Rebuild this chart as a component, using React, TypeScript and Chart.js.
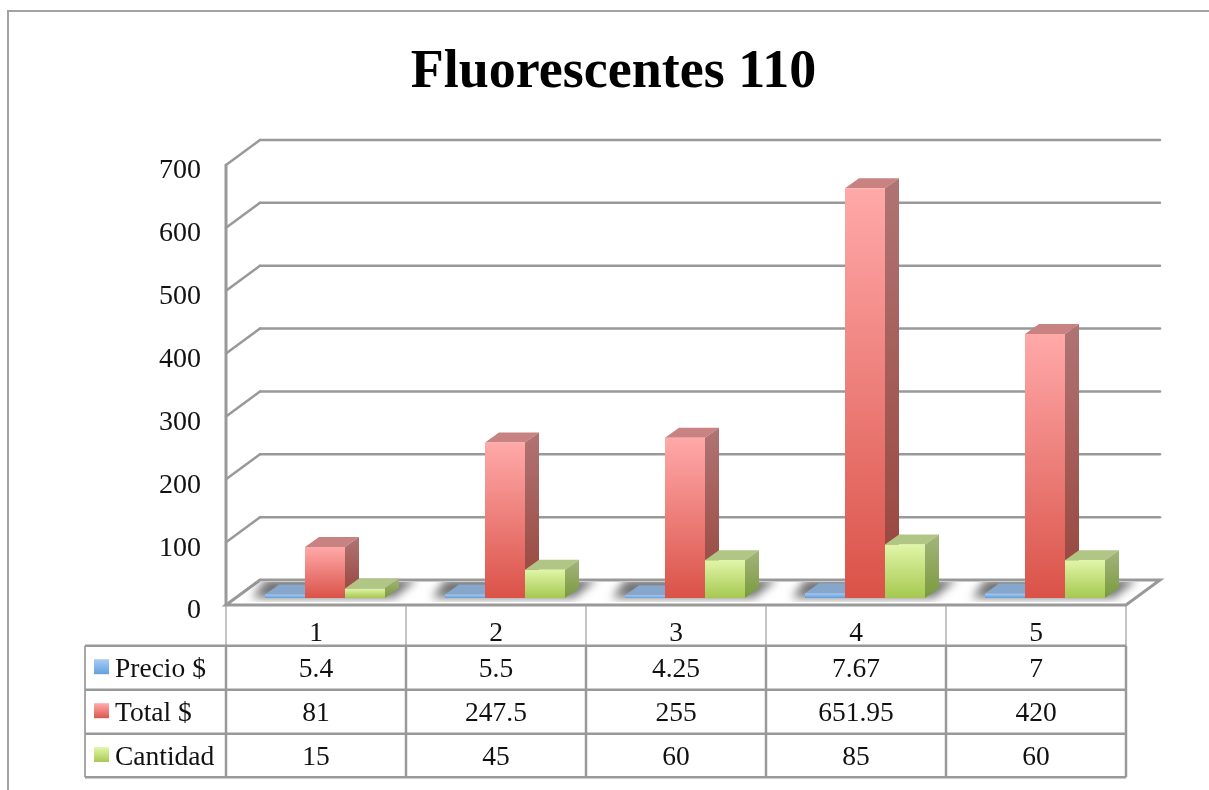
import React, { useEffect, useRef } from "react";
import { Chart, registerables } from "chart.js";

Chart.register(...registerables);

const titleText = "Fluorescentes 110";
const categories = ["1", "2", "3", "4", "5"];
const precio = [5.4, 5.5, 4.25, 7.67, 7];
const total = [81, 247.5, 255, 651.95, 420];
const cantidad = [15, 45, 60, 85, 60];
const seriesNames = ["Precio $", "Total $", "Cantidad"];

const SERIF = "'Liberation Serif', serif";
const LINE = "#999999";
const DX = 14, DY = 10;

const palette = [
  { top: "#a8cbf5", bottom: "#5f9fdc", cap: "#86a6cc", side0: "#7e9cc4", side1: "#5f86b8" },
  { top: "#ffa9a9", bottom: "#da5248", cap: "#c98282", side0: "#b07474", side1: "#97433a" },
  { top: "#e0f6a8", bottom: "#a6c850", cap: "#b1c585", side0: "#a3b57c", side1: "#7a9a3e" },
];

function barGradient(ctx: any, i: number) {
  const chart = ctx.chart;
  if (ctx.type !== "data" || !chart.chartArea) return palette[i].bottom;
  const y = chart.scales.y;
  const g = chart.ctx.createLinearGradient(0, y.getPixelForValue(ctx.raw), 0, y.getPixelForValue(0));
  g.addColorStop(0, palette[i].top);
  g.addColorStop(1, palette[i].bottom);
  return g;
}

function poly(c: CanvasRenderingContext2D, pts: number[][]) {
  c.beginPath();
  pts.forEach((p, i) => (i ? c.lineTo(p[0], p[1]) : c.moveTo(p[0], p[1])));
  c.closePath();
}

function seg(c: CanvasRenderingContext2D, a: number, b: number, d: number, e: number, col = LINE, w = 2.5) {
  c.strokeStyle = col;
  c.lineWidth = w;
  c.beginPath();
  c.moveTo(a, b);
  c.lineTo(d, e);
  c.stroke();
}

const scene3d = {
  id: "scene3d",
  beforeDatasetsDraw(chart: any) {
    const c: CanvasRenderingContext2D = chart.ctx;
    const { x, y } = chart.scales;
    const frontX0 = x.left - 9, frontX1 = x.right - 9;
    const backDX = 34, frontDY = 7, backDY = -18;
    c.save();
    // frame: left and top edges only, running off the page
    c.strokeStyle = "#a3a3a3";
    c.lineWidth = 2;
    c.beginPath();
    c.moveTo(8, chart.height);
    c.lineTo(8, 11);
    c.lineTo(chart.width, 11);
    c.stroke();
    // wall gridlines
    c.lineCap = "round";
    y.ticks.forEach((t: any) => {
      const p = y.getPixelForValue(t.value);
      seg(c, frontX0, p + frontDY, frontX0 + backDX, p + backDY);
      if (t.value !== 0) seg(c, frontX0 + backDX, p + backDY, frontX1 + backDX, p + backDY);
    });
    const z = y.getPixelForValue(0);
    seg(c, frontX0, y.getPixelForValue(700) + frontDY, frontX0, z + frontDY, LINE, 3);
    // floor
    poly(c, [
      [frontX0, z + frontDY],
      [frontX1, z + frontDY],
      [frontX1 + backDX, z + backDY],
      [frontX0 + backDX, z + backDY],
    ]);
    c.fillStyle = "#ffffff";
    c.fill();
    c.strokeStyle = LINE;
    c.lineWidth = 3;
    c.stroke();
    // soft blurred shadows on the floor
    c.save();
    c.beginPath();
    c.rect(frontX0, z + backDY + 2, frontX1 - frontX0 + backDX, -backDY + 2);
    c.clip();
    const blue = chart.getDatasetMeta(0).data;
    const green = chart.getDatasetMeta(2).data;
    (c as any).filter = "blur(5px)";
    c.fillStyle = "rgba(100,100,100,0.9)";
    blue.forEach((b: any, i: number) => {
      const l = b.x - b.width / 2;
      const r = green[i].x + green[i].width / 2;
      poly(c, [
        [l - 13, z],
        [r + 9, z],
        [r + DX + 18, z - DY - 9],
        [l + DX - 13, z - DY - 9],
      ]);
      c.fill();
    });
    (c as any).filter = "none";
    c.restore();
    // caps and side faces, left series first; the library paints the fronts over them
    [0, 1, 2].forEach((ds) => {
      const col = palette[ds];
      chart.getDatasetMeta(ds).data.forEach((b: any) => {
        const l = b.x - b.width / 2;
        const r = b.x + b.width / 2;
        const t = b.y;
        const bot = b.base;
        poly(c, [[l, t], [r, t], [r + DX, t - DY], [l + DX, t - DY]]);
        c.fillStyle = col.cap;
        c.fill();
        const g = c.createLinearGradient(0, t - DY, 0, bot);
        g.addColorStop(0, col.side0);
        g.addColorStop(1, col.side1);
        poly(c, [[r, t], [r + DX, t - DY], [r + DX, bot - DY], [r, bot]]);
        c.fillStyle = g;
        c.fill();
      });
    });
    c.restore();
  },
  afterDatasetsDraw(chart: any) {
    const c: CanvasRenderingContext2D = chart.ctx;
    const { x } = chart.scales;
    const left = x.left - 9;
    const pitch = x.width / categories.length;
    const rows = [606, 645.7, 689.7, 733.7, 777.3];
    const keyLeft = 85;
    const rowData = [precio, total, cantidad];
    c.save();
    // table rules
    for (let i = 0; i <= categories.length; i++) {
      const px = left + i * pitch;
      seg(c, px, rows[0], px, rows[1], "#b0b0b0", 1.5);
      seg(c, px, rows[1], px, rows[4], LINE, 2.5);
    }
    seg(c, keyLeft, rows[1], keyLeft, rows[4], "#a8a8a8", 2);
    for (let r = 1; r < rows.length; r++) seg(c, keyLeft, rows[r], left + categories.length * pitch, rows[r], LINE, 2.5);
    // table contents
    c.textBaseline = "middle";
    c.font = `27.5px ${SERIF}`;
    rowData.forEach((vals, r) => {
      const cy = (rows[r + 1] + rows[r + 2]) / 2;
      const g = c.createLinearGradient(0, cy - 8, 0, cy + 7);
      g.addColorStop(0, palette[r].top);
      g.addColorStop(1, palette[r].bottom);
      c.fillStyle = g;
      c.fillRect(94, cy - 8.5, 15, 15);
      c.fillStyle = "#111111";
      c.textAlign = "left";
      c.fillText(seriesNames[r], 115, cy + 2);
      c.textAlign = "center";
      vals.forEach((v, i) => c.fillText(String(v), x.getPixelForTick(i) - 9, cy + 2));
    });
    c.restore();
  },
};

export default function App() {
  const ref = useRef<HTMLCanvasElement>(null);
  useEffect(() => {
    document.body.style.margin = "0";
    const chart = new Chart(ref.current!, {
      type: "bar",
      data: {
        labels: categories,
        datasets: [
          { label: seriesNames[0], data: precio, categoryPercentage: 2 / 3, barPercentage: 1, backgroundColor: (ctx: any) => barGradient(ctx, 0) },
          { label: seriesNames[1], data: total, categoryPercentage: 2 / 3, barPercentage: 1, backgroundColor: (ctx: any) => barGradient(ctx, 1) },
          { label: seriesNames[2], data: cantidad, categoryPercentage: 2 / 3, barPercentage: 1, backgroundColor: (ctx: any) => barGradient(ctx, 2) },
        ],
      },
      options: {
        responsive: false,
        animation: false,
        devicePixelRatio: 1,
        layout: { padding: { left: 92, right: 74, top: 0, bottom: 0 } },
        plugins: {
          legend: { display: false },
          tooltip: { enabled: false },
          title: {
            display: true,
            text: titleText,
            color: "#000000",
            font: { family: "'Liberation Serif', serif", size: 54, weight: "bold", lineHeight: 1 },
            padding: { top: 46, bottom: 58 },
          },
        },
        scales: {
          x: {
            grid: { display: false, drawTicks: false },
            border: { display: false },
            afterFit: (s: any) => { s.height = 192; },
            ticks: {
              autoSkip: false,
              maxRotation: 0,
              labelOffset: -9,
              padding: 19,
              color: "#111111",
              font: { family: "'Liberation Serif', serif", size: 27.5 },
            },
          },
          y: {
            min: 0,
            max: 700,
            grid: { display: false, drawTicks: false },
            border: { display: false },
            afterFit: (s: any) => { s.width = 143; },
            ticks: {
              stepSize: 100,
              labelOffset: 13,
              padding: 34,
              color: "#111111",
              font: { family: "'Liberation Serif', serif", size: 28 },
            },
          },
        },
      } as any,
      plugins: [scene3d],
    });
    return () => chart.destroy();
  }, []);
  return (
    <div style={{ position: "absolute", left: 0, top: 0, width: 1209, height: 790, overflow: "hidden", background: "#fff" }}>
      <canvas ref={ref} width={1209} height={790} style={{ display: "block" }} />
    </div>
  );
}
